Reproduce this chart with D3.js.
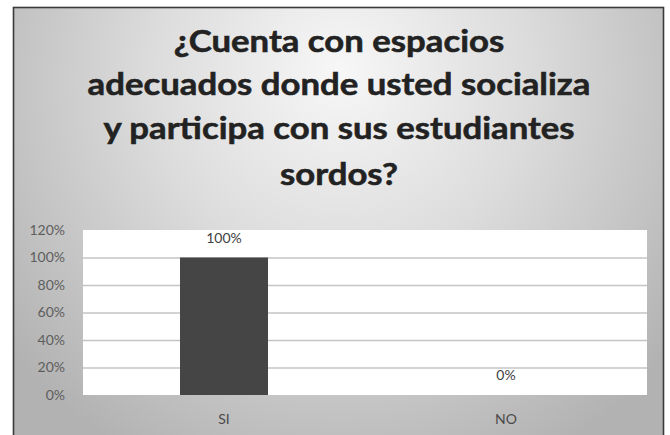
<!DOCTYPE html>
<html>
<head>
<meta charset="utf-8">
<script src="https://cdn.jsdelivr.net/npm/d3@7/dist/d3.min.js"></script>
<style>
  html, body { margin: 0; padding: 0; background: #ffffff; }
  svg { display: block; }
</style>
</head>
<body>
<svg id="chart" width="670" height="435"></svg>
<script>
// Survey answers and their share of respondents
const categories = ["SI", "NO"];
const values = [1.00, 0.00];
const tickValues = [0, 0.2, 0.4, 0.6, 0.8, 1.0, 1.2];
const titleLines = [
  "¿Cuenta con espacios",
  "adecuados donde usted socializa",
  "y participa con sus estudiantes",
  "sordos?"
];

const W = 670, H = 435;
const svg = d3.select("#chart");
const defs = svg.append("defs");

// Chart-area fill: light at the top centre, fading to grey at the edges
const grad = defs.append("radialGradient")
  .attr("id", "bg")
  .attr("gradientUnits", "userSpaceOnUse")
  .attr("cx", 340).attr("cy", 90)
  .attr("fx", 340).attr("fy", 70)
  .attr("r", 420);
grad.append("stop").attr("offset", "0%").attr("stop-color", "#f7f7f7");
grad.append("stop").attr("offset", "45%").attr("stop-color", "#dcdcdc");
grad.append("stop").attr("offset", "100%").attr("stop-color", "#b2b2b2");

const frame = { x: 13.5, y: 7.5, w: 650, h: 440 };
svg.append("rect")
  .attr("x", frame.x).attr("y", frame.y)
  .attr("width", frame.w).attr("height", frame.h)
  .attr("fill", "url(#bg)")
  .attr("stroke", "#3a3a3a")
  .attr("stroke-width", 1.6);

// Title, four centred lines
const titleFont = "Lato, 'Open Sans', sans-serif";
const cx = 339;
const lineBaselines = [52, 95, 139, 185];
const title = svg.append("g");
const lines = title.selectAll("text")
  .data(titleLines)
  .join("text")
  .attr("x", 0)
  .attr("y", 0)
  .attr("text-anchor", "middle")
  .attr("font-family", titleFont)
  .attr("font-weight", 700)
  .attr("font-size", 30.5)
  .attr("fill", "#222222")
  .attr("stroke", "#222222")
  .attr("stroke-width", 0.55)
  .text(d => d);
// keep the longest line at its intended width
const widest = lines.nodes()[1].getComputedTextLength();
const squeeze = 503 / widest;
lines.attr("transform", (d, i) =>
  `translate(${cx},${lineBaselines[i]}) scale(${squeeze.toFixed(4)},1)`);

// Plot area
const plot = { left: 83, right: 647, top: 230, bottom: 395 };

const x = d3.scaleBand()
  .domain(categories)
  .range([plot.left, plot.right])
  .paddingInner(0.688)
  .paddingOuter(0.344);

const y = d3.scaleLinear()
  .domain([0, 1.2])
  .range([plot.bottom, plot.top]);

svg.append("rect")
  .attr("x", plot.left).attr("y", plot.top)
  .attr("width", plot.right - plot.left)
  .attr("height", plot.bottom - plot.top)
  .attr("fill", "#ffffff");

// Horizontal gridlines
const grid = svg.append("g")
  .attr("transform", `translate(${plot.left},0)`)
  .call(d3.axisLeft(y)
    .tickValues(tickValues.filter(v => v > 0 && v < 1.2))
    .tickSize(-(plot.right - plot.left))
    .tickFormat(""));
grid.select(".domain").remove();
grid.selectAll(".tick line")
  .attr("stroke", "#c4c4c4")
  .attr("stroke-width", 1.4);

// Y axis labels
const labelFont = "Lato, 'Open Sans', sans-serif";
const yAxis = svg.append("g")
  .attr("transform", `translate(${plot.left},0)`)
  .call(d3.axisLeft(y)
    .tickValues(tickValues)
    .tickSize(0)
    .tickPadding(18)
    .tickFormat(d3.format(".0%")));
yAxis.select(".domain").remove();
yAxis.selectAll("text")
  .attr("font-family", labelFont)
  .attr("font-size", 14)
  .attr("fill", "#5e5e5e");

// Bars
const rows = categories.map((c, i) => ({ c, v: values[i] }));
svg.append("g")
  .selectAll("rect")
  .data(rows)
  .join("rect")
  .attr("x", d => x(d.c))
  .attr("y", d => y(d.v))
  .attr("width", x.bandwidth())
  .attr("height", d => y(0) - y(d.v))
  .attr("fill", "#454545");

// Value labels above each bar
svg.append("g")
  .selectAll("text")
  .data(rows)
  .join("text")
  .attr("x", d => x(d.c) + x.bandwidth() / 2)
  .attr("y", d => y(d.v) - 15)
  .attr("text-anchor", "middle")
  .attr("font-family", labelFont)
  .attr("font-size", 14)
  .attr("fill", "#404040")
  .text(d => d3.format(".0%")(d.v));

// Category axis labels
const xAxis = svg.append("g")
  .attr("transform", `translate(0,${plot.bottom})`)
  .call(d3.axisBottom(x).tickSize(0).tickPadding(19));
xAxis.select(".domain").remove();
xAxis.selectAll("text")
  .attr("font-family", labelFont)
  .attr("font-size", 14)
  .attr("fill", "#4a4a4a");
</script>
</body>
</html>
